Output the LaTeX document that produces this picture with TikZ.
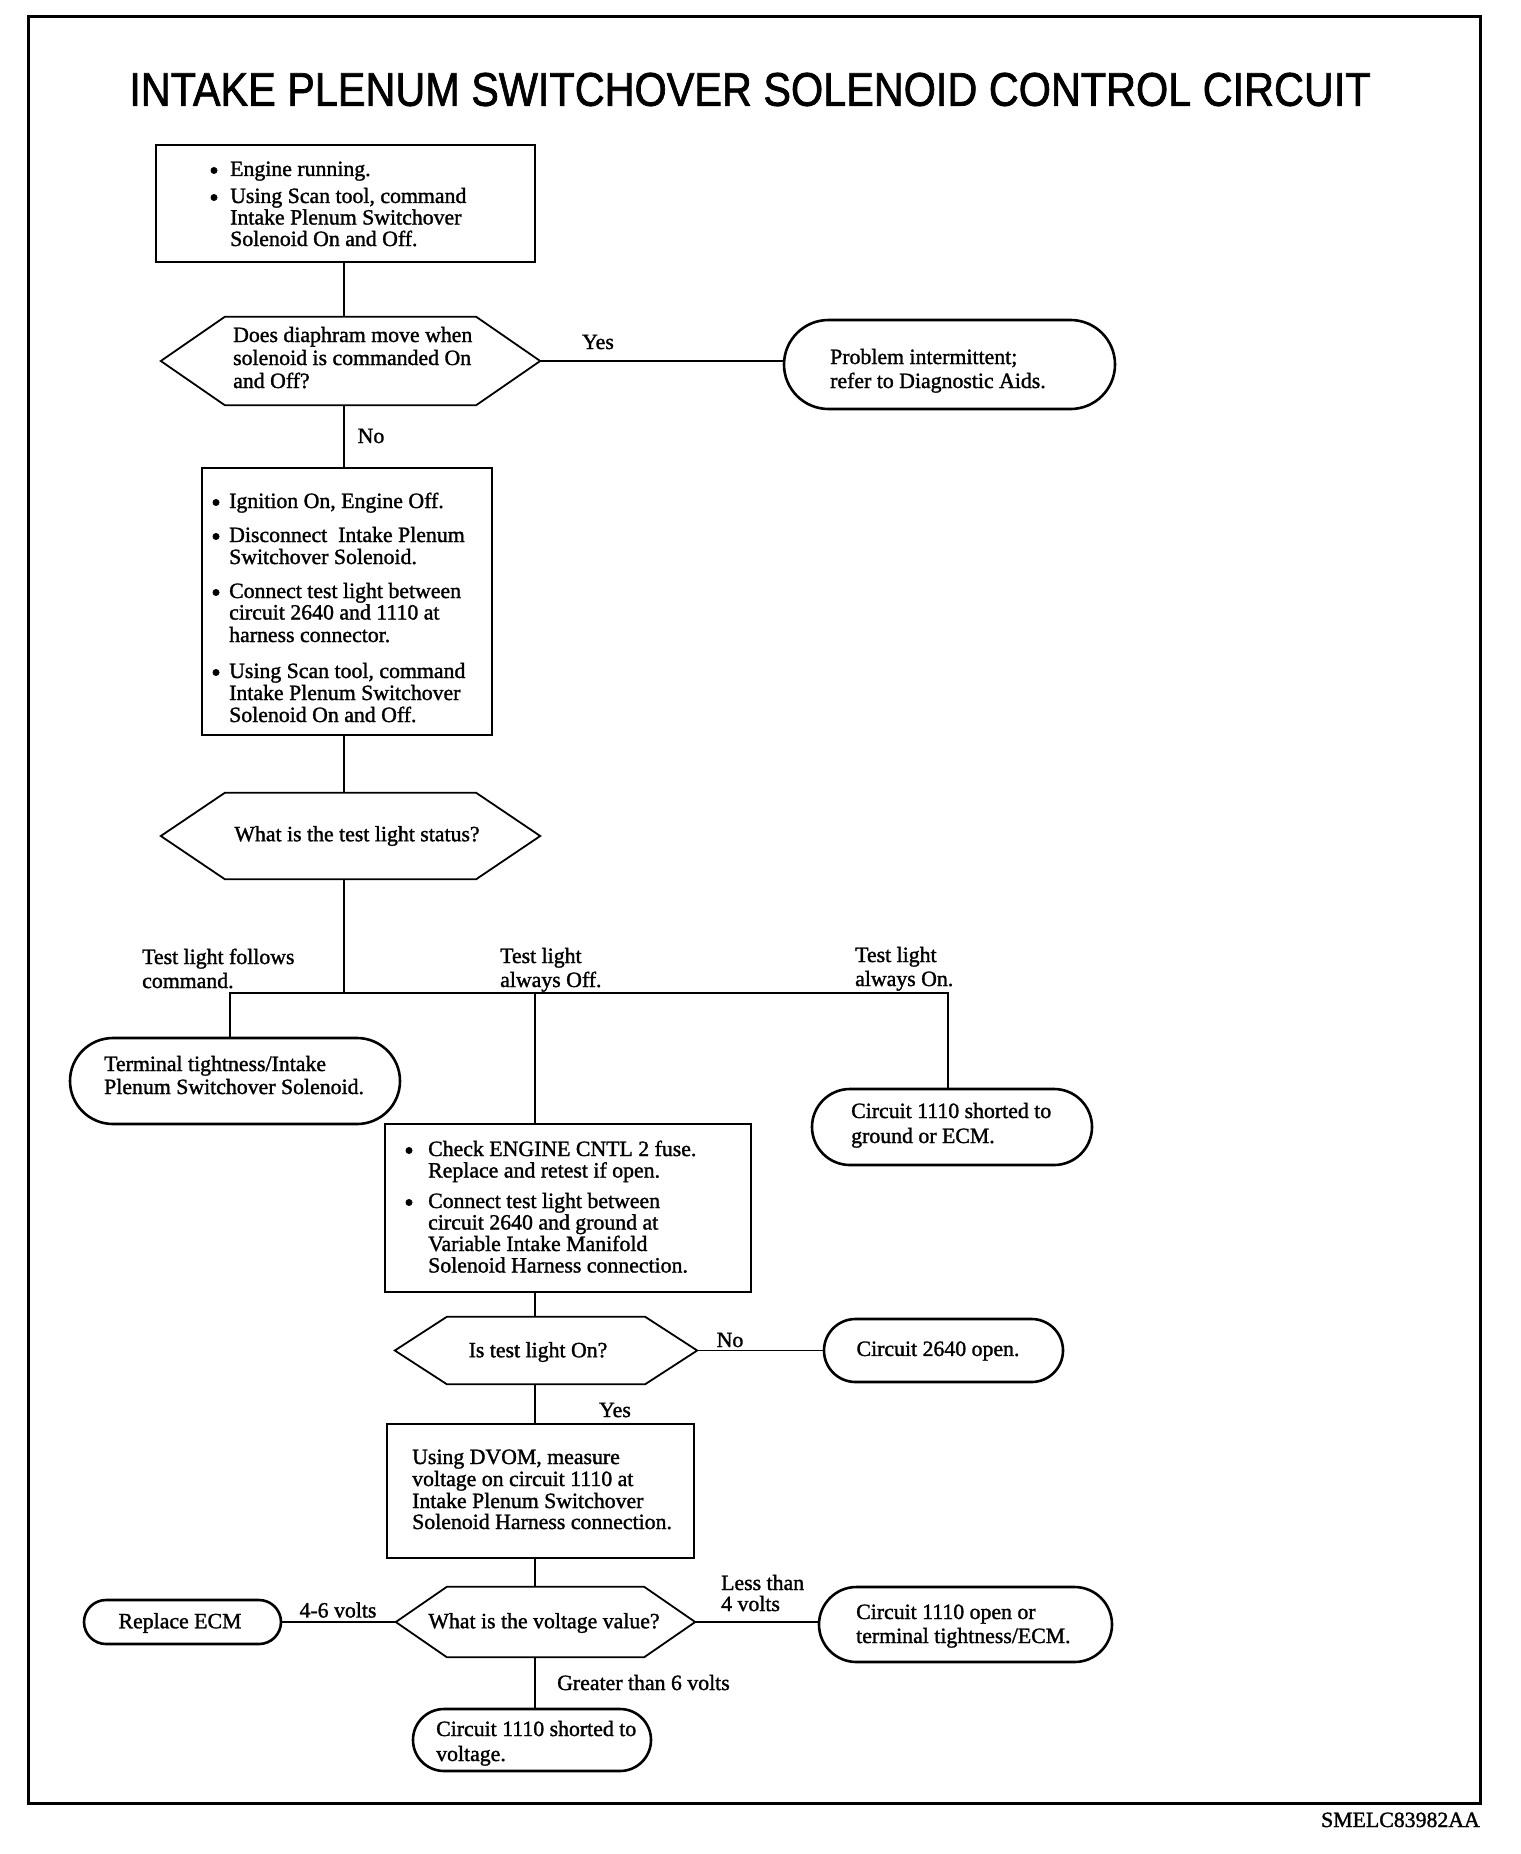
\documentclass[tikz,border=0pt]{standalone}
\usepackage{fontspec}
\setmainfont{Liberation Serif}[FakeBold=1.4]
\newfontfamily\titlefont{Liberation Sans}[FakeBold=1.6]
\usetikzlibrary{shapes.misc,calc}
\tikzset{
  txt/.style={inner sep=0pt, font=\fontsize{21.8}{21.7}\selectfont},
  bulletdot/.style={circle, fill=black, draw=none, inner sep=0pt, minimum size=7pt},
  boxnode/.style={draw, line width=2pt, rectangle, inner sep=0pt},
  ovalnode/.style={draw, line width=2.6pt, rounded rectangle, inner sep=0pt},
  hexnode/.style={rectangle, inner sep=0pt},
  hexline/.style={line width=1.8pt, line join=miter},
  conn/.style={line width=1.6pt},
  frameline/.style={line width=3pt},
}
\newcommand\tline[4]{\node[txt,anchor=base west] (#1) at (#2,#3) {#4};}
\newcommand\tbul[3]{\node[bulletdot] (#1) at (#2,#3-5.5) {};}
\newcommand\hexdraw[2]{\draw[hexline] (#1.west) -- ([xshift=#2pt]#1.north west) -- ([xshift=-#2pt]#1.north east) -- (#1.east) -- ([xshift=-#2pt]#1.south east) -- ([xshift=#2pt]#1.south west) -- cycle;}
\begin{document}
\begin{tikzpicture}[x=1pt,y=-1pt]
\useasboundingbox (0,0) rectangle (1520,1854);
\fill[white] (0,0) rectangle (1520,1854);
% frame
\node[draw, frameline, rectangle, inner sep=0pt, minimum width=1452pt, minimum height=1786pt] (frame) at (754,910) {};
\node[inner sep=0pt] (title) at (750,89.5) {\resizebox{1241pt}{33pt}{\titlefont INTAKE PLENUM SWITCHOVER SOLENOID CONTROL CIRCUIT}};
\node[txt, anchor=base east] (code) at (1480,1827) {SMELC83982AA};

% column coordinates
\coordinate (colA) at (344,0);
\coordinate (colB) at (535,0);
\coordinate (colL) at (230,0);
\coordinate (colR) at (948,0);
\coordinate (J) at (344,993);

% shapes
\node[boxnode, minimum width=379pt, minimum height=117pt] (b1) at (345.5,203.5) {};
\node[hexnode, minimum width=379pt, minimum height=88pt] (d1) at (350.5,361) {};
\hexdraw{d1}{64}
\node[ovalnode, minimum width=331pt, minimum height=89pt] (o1) at (949.5,364.5) {};
\node[boxnode, minimum width=290pt, minimum height=267pt] (b2) at (347,601.5) {};
\node[hexnode, minimum width=379pt, minimum height=86pt] (d2) at (350.5,836) {};
\hexdraw{d2}{64}
\node[ovalnode, minimum width=330pt, minimum height=86pt] (o2) at (235,1081) {};
\node[ovalnode, minimum width=280pt, minimum height=76pt] (o3) at (952,1127) {};
\node[boxnode, minimum width=366pt, minimum height=168pt] (b3) at (568,1208) {};
\node[hexnode, minimum width=302pt, minimum height=67pt] (d3) at (546,1350.5) {};
\hexdraw{d3}{52}
\node[ovalnode, minimum width=239pt, minimum height=63pt] (o4) at (943.5,1350.5) {};
\node[boxnode, minimum width=307pt, minimum height=134pt] (b4) at (540.5,1491) {};
\node[hexnode, minimum width=299pt, minimum height=70pt] (d4) at (545.5,1622) {};
\hexdraw{d4}{51}
\node[ovalnode, minimum width=197pt, minimum height=44pt] (o5) at (182.5,1622) {};
\node[ovalnode, minimum width=293pt, minimum height=75pt] (o6) at (965.5,1624.5) {};
\node[ovalnode, minimum width=238pt, minimum height=62pt] (o7) at (532,1740) {};

% connectors
\draw[conn] (b1.south -| colA) -- (d1.north -| colA);
\draw[conn] (d1.east) -- (d1.east -| o1.west);
\draw[conn] (d1.south -| colA) -- (b2.north -| colA);
\draw[conn] (b2.south -| colA) -- (d2.north -| colA);
\draw[conn] (d2.south -| colA) -- (J);
\draw[conn] (o2.north -| colL) -- (colL |- J) -- (colR |- J) -- (o3.north -| colR);
\draw[conn] (colB |- J) -- (b3.north -| colB);
\draw[conn] (b3.south -| colB) -- (d3.north -| colB);
\draw[conn] (d3.east) -- (d3.east -| o4.west);
\draw[conn] (d3.south -| colB) -- (b4.north -| colB);
\draw[conn] (b4.south -| colB) -- (d4.north -| colB);
\draw[conn] (d4.west) -- (d4.west -| o5.east);
\draw[conn] (d4.east) -- (d4.east -| o6.west);
\draw[conn] (d4.south -| colB) -- (o7.north -| colB);

% box 1 text
\tbul{b1a}{214}{176}\tline{b1t1}{230}{176}{Engine running.}
\tbul{b1b}{214}{203}\tline{b1t2}{230}{203}{Using Scan tool, command}
\tline{b1t3}{230}{224.5}{Intake Plenum Switchover}
\tline{b1t4}{230}{246}{Solenoid On and Off.}
% diamond 1 text
\tline{d1t1}{233}{342}{Does diaphram move when}
\tline{d1t2}{233}{365}{solenoid is commanded On}
\tline{d1t3}{233}{388}{and Off?}
\node[txt] (lyes1) at (598,342) {Yes};
\tline{o1t1}{830}{364}{Problem intermittent;}
\tline{o1t2}{830}{388}{refer to Diagnostic Aids.}
\node[txt] (lno1) at (371,436) {No};
% box 2 text
\tbul{b2a}{216}{508}\tline{b2t1}{229}{508}{Ignition On, Engine Off.}
\tbul{b2b}{216}{542}\tline{b2t2}{229}{542}{Disconnect\ \ Intake Plenum}
\tline{b2t3}{229}{564}{Switchover Solenoid.}
\tbul{b2c}{216}{598}\tline{b2t4}{229}{598}{Connect test light between}
\tline{b2t5}{229}{619.5}{circuit 2640 and 1110 at}
\tline{b2t6}{229}{642}{harness connector.}
\tbul{b2d}{216}{678}\tline{b2t7}{229}{678}{Using Scan tool, command}
\tline{b2t8}{229}{700}{Intake Plenum Switchover}
\tline{b2t9}{229}{722}{Solenoid On and Off.}
% diamond 2
\node[txt] (d2t) at (357,836) {What is the test light status?};
\tline{l1a}{142}{964}{Test light follows}
\tline{l1b}{142}{988}{command.}
\tline{l2a}{500}{963}{Test light}
\tline{l2b}{500}{987}{always Off.}
\tline{l3a}{855}{962}{Test light}
\tline{l3b}{855}{986}{always On.}
\tline{o2t1}{104}{1071}{Terminal tightness/Intake}
\tline{o2t2}{104}{1094}{Plenum Switchover Solenoid.}
\tline{o3t1}{851}{1118}{Circuit 1110 shorted to}
\tline{o3t2}{851}{1143}{ground or ECM.}
% box 3
\tbul{b3a}{409}{1156}\tline{b3t1}{428}{1156}{Check ENGINE CNTL 2 fuse.}
\tline{b3t2}{428}{1177.5}{Replace and retest if open.}
\tbul{b3b}{409}{1208}\tline{b3t3}{428}{1208}{Connect test light between}
\tline{b3t4}{428}{1229.5}{circuit 2640 and ground at}
\tline{b3t5}{428}{1251}{Variable Intake Manifold}
\tline{b3t6}{428}{1272.5}{Solenoid Harness connection.}
% diamond 3
\node[txt] (d3t) at (538,1352) {Is test light On?};
\node[txt] (lno2) at (730,1340) {No};
\node[txt] (o4t) at (938,1351) {Circuit 2640 open.};
\node[txt] (lyes2) at (615,1410) {Yes};
% box 4
\tline{b4t1}{412}{1464}{Using DVOM, measure}
\tline{b4t2}{412}{1486}{voltage on circuit 1110 at}
\tline{b4t3}{412}{1508}{Intake Plenum Switchover}
\tline{b4t4}{412}{1529}{Solenoid Harness connection.}
% diamond 4
\node[txt] (d4t) at (544,1623) {What is the voltage value?};
\node[txt] (l46) at (338,1610) {4-6 volts};
\node[txt] (o5t) at (180,1623) {Replace ECM};
\tline{lless1}{721}{1590}{Less than}
\tline{lless2}{721}{1611}{4 volts}
\tline{o6t1}{856}{1619}{Circuit 1110 open or}
\tline{o6t2}{856}{1643}{terminal tightness/ECM.}
\tline{lgt}{557}{1690}{Greater than 6 volts}
\tline{o7t1}{436}{1736}{Circuit 1110 shorted to}
\tline{o7t2}{436}{1761}{voltage.}
\end{tikzpicture}
\end{document}
